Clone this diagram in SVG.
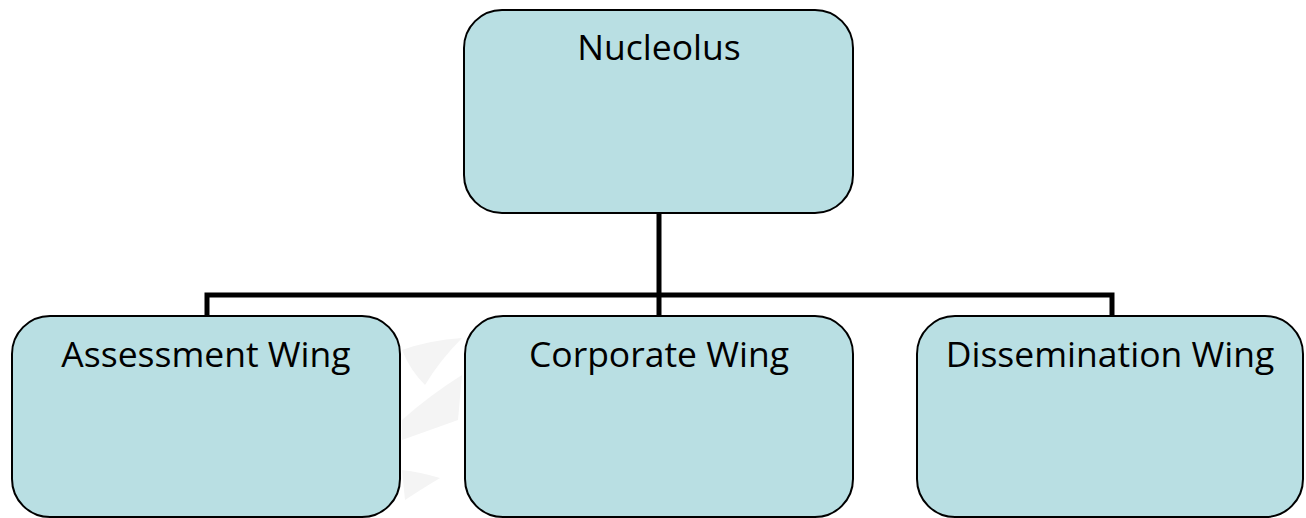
<svg xmlns="http://www.w3.org/2000/svg" width="1306" height="518" viewBox="0 0 1306 518">
<style>
.box{fill:#B9DFE3;stroke:#000;stroke-width:2}
.lbl{font-family:"Open Sans","Liberation Sans",sans-serif;font-size:35.5px;fill:#000;text-anchor:middle}
.conn{fill:none;stroke:#000;stroke-width:5}
.wm{fill:#F4F4F4}
</style>
<rect width="1306" height="518" fill="#fff"/>
<g id="watermark">
<path class="wm" d="M402 350 Q430 340 462 338 Q440 360 425 385 Q410 370 402 350 Z"/>
<path class="wm" d="M402 420 Q430 395 462 375 L458 420 Q430 430 402 440 Z"/>
<path class="wm" d="M402 470 Q420 472 440 478 Q420 490 405 500 Z"/>
</g>
<g id="connectors">
<path class="conn" d="M659 213 V295"/>
<path class="conn" d="M207 316 V295 H1112 V316"/>
<path class="conn" d="M659 295 V316"/>
</g>
<g id="nucleolus">
<rect class="box" x="464" y="10" width="389" height="203" rx="38"/>
<text class="lbl" x="659" y="60">Nucleolus</text>
</g>
<g id="assessment">
<rect class="box" x="12" y="316" width="388" height="201" rx="38"/>
<text class="lbl" x="206" y="367">Assessment Wing</text>
</g>
<g id="corporate">
<rect class="box" x="465" y="316" width="388" height="201" rx="38"/>
<text class="lbl" x="659" y="367">Corporate Wing</text>
</g>
<g id="dissemination">
<rect class="box" x="917" y="316" width="386" height="201" rx="38"/>
<text class="lbl" x="1110" y="367">Dissemination Wing</text>
</g>
</svg>
